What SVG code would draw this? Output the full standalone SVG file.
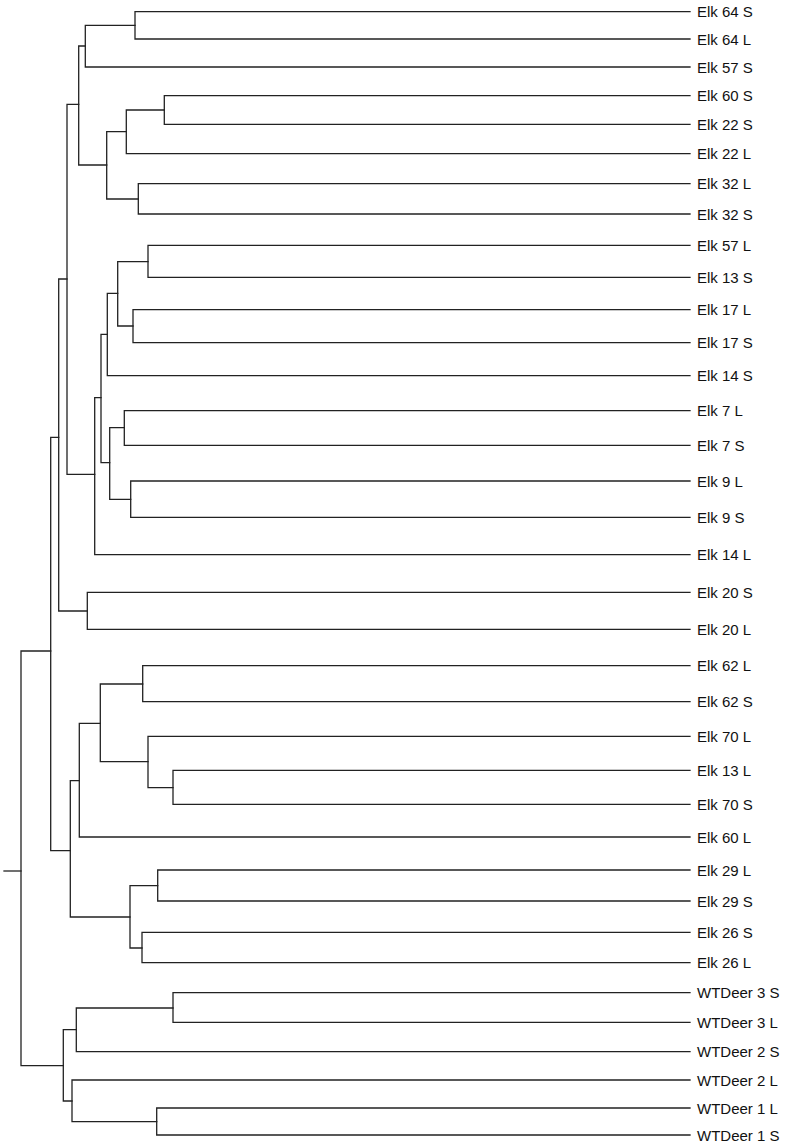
<svg xmlns="http://www.w3.org/2000/svg" width="788" height="1146" viewBox="0 0 788 1146">
<style>
.br{fill:none;stroke:#222;stroke-width:1.3;stroke-linejoin:miter;stroke-linecap:square}
.lb{font-family:"Liberation Sans",Arial,sans-serif;font-size:15px;fill:#111}
</style>
<rect width="788" height="1146" fill="#fff"/>
<g id="connectors">
<path class="br" d="M690 11.7H135V39H690"/>
<path class="br" d="M135 25.3H85.3V67H690"/>
<path class="br" d="M690 95.7H164.3V124.3H690"/>
<path class="br" d="M164.3 110H126.3V153.7H690"/>
<path class="br" d="M690 183.7H138.3V214H690"/>
<path class="br" d="M126.3 131.7H106.7V199H138.3"/>
<path class="br" d="M85.3 46H78.7V165H106.7"/>
<path class="br" d="M690 245.3H148V277.3H690"/>
<path class="br" d="M690 309.7H133V342.7H690"/>
<path class="br" d="M148 261.7H117.7V326H133"/>
<path class="br" d="M117.7 293.3H107.3V375.7H690"/>
<path class="br" d="M690 410.7H124.3V445.3H690"/>
<path class="br" d="M690 481H130.7V517.3H690"/>
<path class="br" d="M124.3 427.7H109.7V499.3H130.7"/>
<path class="br" d="M107.3 334.3H101V462.7H109.7"/>
<path class="br" d="M101 397.7H94.7V554.7H690"/>
<path class="br" d="M78.7 104.3H67V474.3H94.7"/>
<path class="br" d="M690 592.3H87.3V629.3H690"/>
<path class="br" d="M67 279H58.7V611H87.3"/>
<path class="br" d="M690 665.7H142.7V701.7H690"/>
<path class="br" d="M690 770.3H173V804.3H690"/>
<path class="br" d="M690 736.3H148V787.7H173"/>
<path class="br" d="M142.7 684H100.3V761.7H148"/>
<path class="br" d="M100.3 723.3H79.3V837H690"/>
<path class="br" d="M690 870H157.7V901H690"/>
<path class="br" d="M690 932.3H142V962.7H690"/>
<path class="br" d="M157.7 885.7H130V948H142"/>
<path class="br" d="M79.3 780.7H70.3V917H130"/>
<path class="br" d="M58.7 437.3H50.7V850.7H70.3"/>
<path class="br" d="M690 992.7H173V1022.3H690"/>
<path class="br" d="M173 1008H76.3V1051.7H690"/>
<path class="br" d="M690 1108H156.7V1135H690"/>
<path class="br" d="M690 1080H72V1121.7H156.7"/>
<path class="br" d="M76.3 1029.7H63.3V1101H72"/>
<path class="br" d="M50.7 651H21V1065.7H63.3"/>
<path class="br" d="M4 871H21"/>
</g>
<g id="leaf-elk64s"><text class="lb" x="697" y="17.2">Elk 64 S</text></g>
<g id="leaf-elk64l"><text class="lb" x="697" y="44.5">Elk 64 L</text></g>
<g id="leaf-elk57s"><text class="lb" x="697" y="72.5">Elk 57 S</text></g>
<g id="leaf-elk60s"><text class="lb" x="697" y="101.2">Elk 60 S</text></g>
<g id="leaf-elk22s"><text class="lb" x="697" y="129.8">Elk 22 S</text></g>
<g id="leaf-elk22l"><text class="lb" x="697" y="159.2">Elk 22 L</text></g>
<g id="leaf-elk32l"><text class="lb" x="697" y="189.2">Elk 32 L</text></g>
<g id="leaf-elk32s"><text class="lb" x="697" y="219.5">Elk 32 S</text></g>
<g id="leaf-elk57l"><text class="lb" x="697" y="250.8">Elk 57 L</text></g>
<g id="leaf-elk13s"><text class="lb" x="697" y="282.8">Elk 13 S</text></g>
<g id="leaf-elk17l"><text class="lb" x="697" y="315.2">Elk 17 L</text></g>
<g id="leaf-elk17s"><text class="lb" x="697" y="348.2">Elk 17 S</text></g>
<g id="leaf-elk14s"><text class="lb" x="697" y="381.2">Elk 14 S</text></g>
<g id="leaf-elk7l"><text class="lb" x="697" y="416.2">Elk 7 L</text></g>
<g id="leaf-elk7s"><text class="lb" x="697" y="450.8">Elk 7 S</text></g>
<g id="leaf-elk9l"><text class="lb" x="697" y="486.5">Elk 9 L</text></g>
<g id="leaf-elk9s"><text class="lb" x="697" y="522.8">Elk 9 S</text></g>
<g id="leaf-elk14l"><text class="lb" x="697" y="560.2">Elk 14 L</text></g>
<g id="leaf-elk20s"><text class="lb" x="697" y="597.8">Elk 20 S</text></g>
<g id="leaf-elk20l"><text class="lb" x="697" y="634.8">Elk 20 L</text></g>
<g id="leaf-elk62l"><text class="lb" x="697" y="671.2">Elk 62 L</text></g>
<g id="leaf-elk62s"><text class="lb" x="697" y="707.2">Elk 62 S</text></g>
<g id="leaf-elk70l"><text class="lb" x="697" y="741.8">Elk 70 L</text></g>
<g id="leaf-elk13l"><text class="lb" x="697" y="775.8">Elk 13 L</text></g>
<g id="leaf-elk70s"><text class="lb" x="697" y="809.8">Elk 70 S</text></g>
<g id="leaf-elk60l"><text class="lb" x="697" y="842.5">Elk 60 L</text></g>
<g id="leaf-elk29l"><text class="lb" x="697" y="875.5">Elk 29 L</text></g>
<g id="leaf-elk29s"><text class="lb" x="697" y="906.5">Elk 29 S</text></g>
<g id="leaf-elk26s"><text class="lb" x="697" y="937.8">Elk 26 S</text></g>
<g id="leaf-elk26l"><text class="lb" x="697" y="968.2">Elk 26 L</text></g>
<g id="leaf-wt3s"><text class="lb" x="697" y="998.2">WTDeer 3 S</text></g>
<g id="leaf-wt3l"><text class="lb" x="697" y="1027.8">WTDeer 3 L</text></g>
<g id="leaf-wt2s"><text class="lb" x="697" y="1057.2">WTDeer 2 S</text></g>
<g id="leaf-wt2l"><text class="lb" x="697" y="1085.5">WTDeer 2 L</text></g>
<g id="leaf-wt1l"><text class="lb" x="697" y="1113.5">WTDeer 1 L</text></g>
<g id="leaf-wt1s"><text class="lb" x="697" y="1140.5">WTDeer 1 S</text></g>
</svg>
